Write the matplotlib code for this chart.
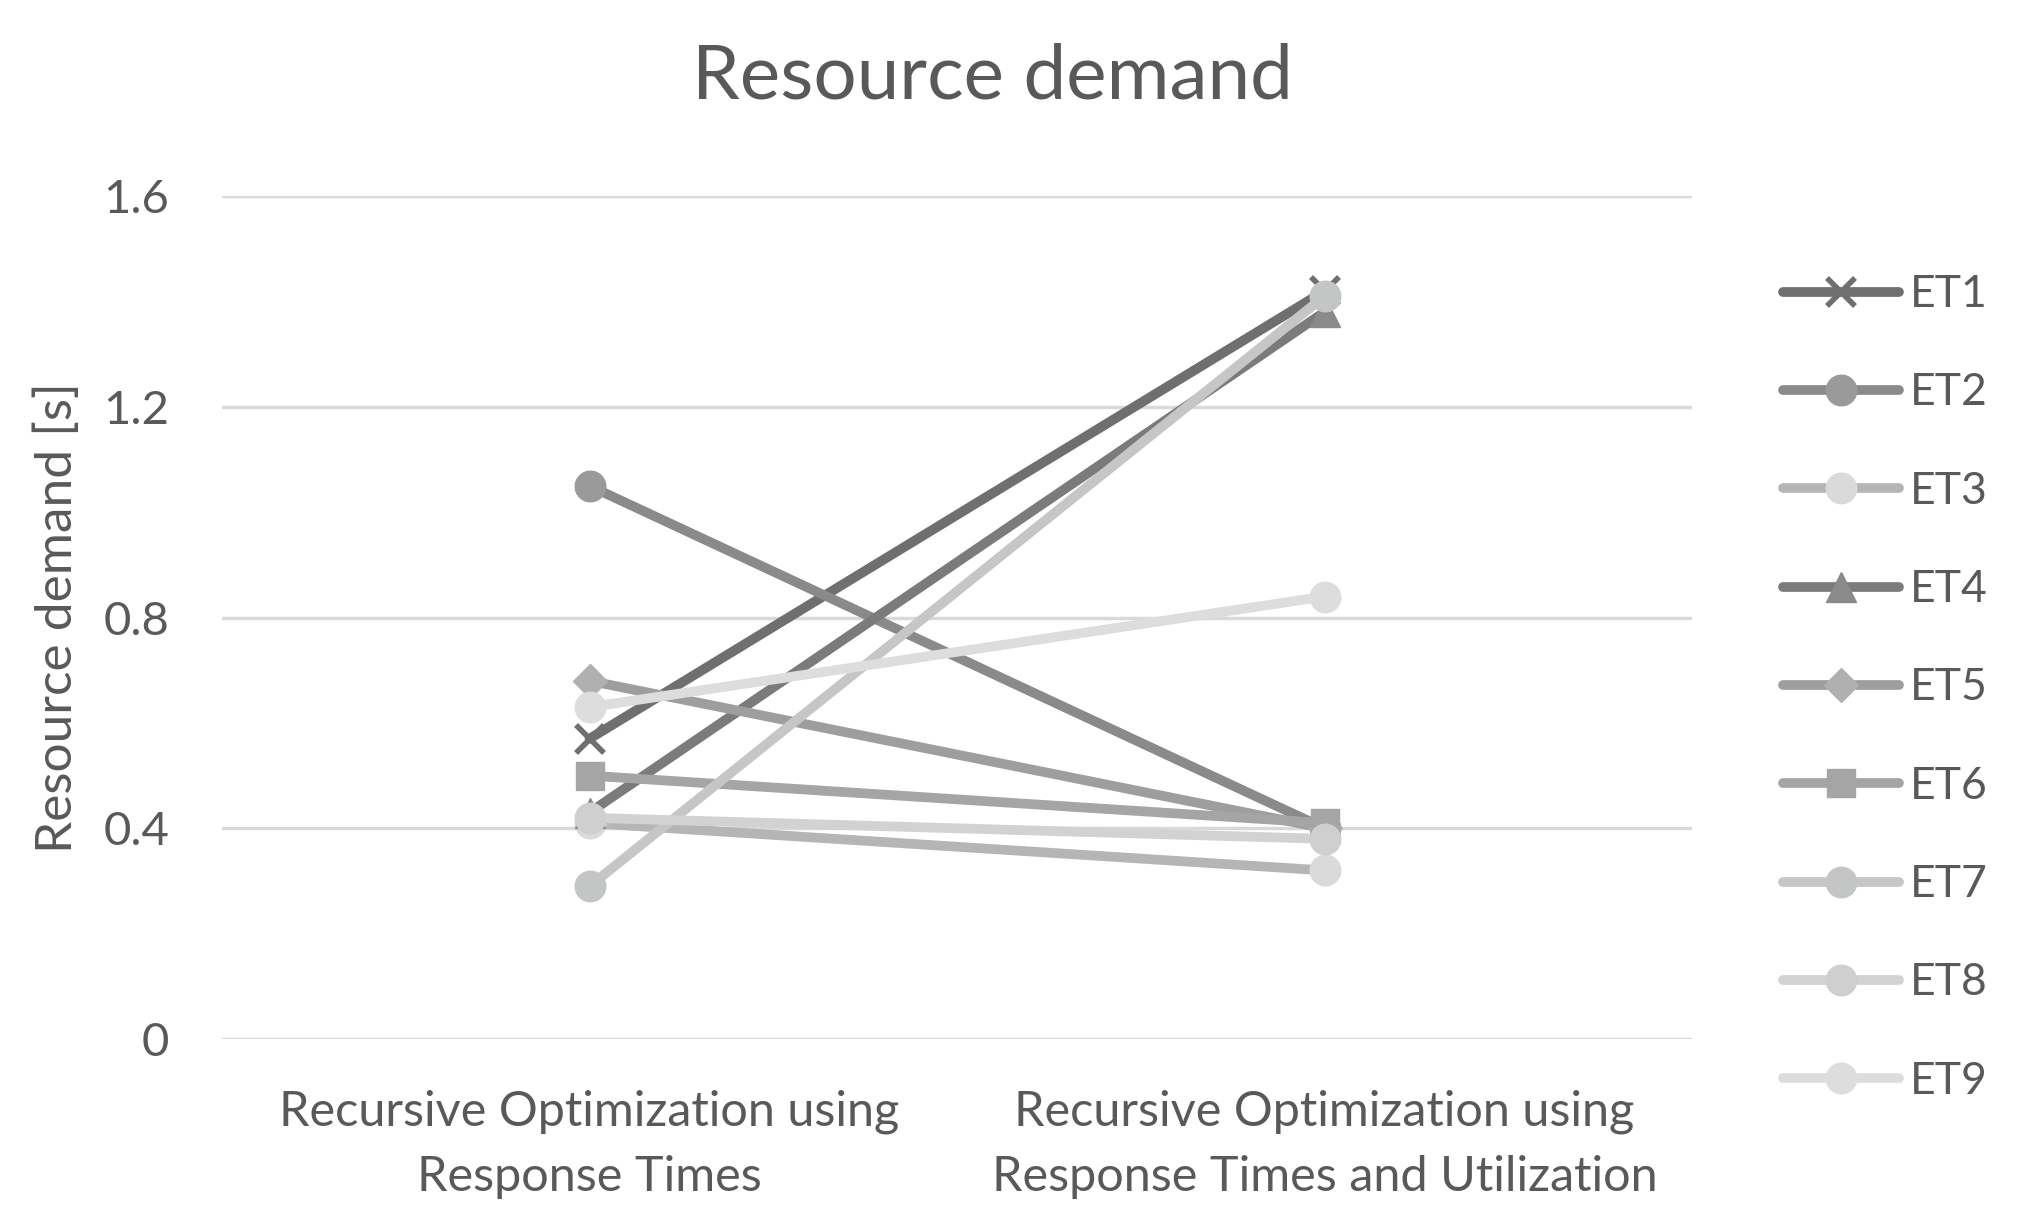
import matplotlib
matplotlib.use('Agg')
import matplotlib.pyplot as plt

plt.rcParams['font.family'] = ['Lato', 'DejaVu Sans']

# categories and series values
categories = ['Recursive Optimization using\nResponse Times',
              'Recursive Optimization using\nResponse Times and Utilization']
series_names = ['ET1', 'ET2', 'ET3', 'ET4', 'ET5', 'ET6', 'ET7', 'ET8', 'ET9']
et1 = [0.57, 1.42]
et2 = [1.05, 0.40]
et3 = [0.41, 0.32]
et4 = [0.43, 1.38]
et5 = [0.68, 0.40]
et6 = [0.50, 0.41]
et7 = [0.29, 1.41]
et8 = [0.42, 0.38]
et9 = [0.63, 0.84]
y_ticks = [0, 0.4, 0.8, 1.2, 1.6]
y_tick_labels = ['0', '0.4', '0.8', '1.2', '1.6']

values = [et1, et2, et3, et4, et5, et6, et7, et8, et9]
line_colors = ['#6f6f6f', '#8a8a8a', '#b5b5b5', '#7b7b7b', '#9e9e9e',
               '#a5a5a5', '#c6c6c6', '#d2d2d2', '#dddddd']
marker_colors = ['#6f6f6f', '#9a9a9a', '#dadada', '#8a8a8a', '#b0b0b0',
                 '#a5a5a5', '#c4c6c6', '#cfcfcf', '#dddddd']
markers = ['x', 'o', 'o', '^', 'D', 's', 'o', 'o', 'o']
msizes = [20, 22, 22, 22, 17, 20, 22, 22, 22]

txt = '#595959'

fig = plt.figure(figsize=(20.22, 12.26), dpi=100)
ax = fig.add_axes([0.1098, 0.1525, 0.8368 - 0.1098, 0.840 - 0.1525])

xs = [0, 1]
for name, vals, lc, mc, m, ms in zip(series_names, values, line_colors,
                                      marker_colors, markers, msizes):
    ax.plot(xs, vals, color=lc, lw=7, marker=m, markersize=ms,
            markerfacecolor=mc, markeredgecolor=mc,
            markeredgewidth=4 if m == 'x' else 1,
            solid_capstyle='round', label=name, clip_on=False)

ax.set_xlim(-0.5, 1.5)
ax.set_ylim(0, 1.6)
ax.set_yticks(y_ticks)
ax.set_yticklabels(y_tick_labels)
ax.set_xticks(xs)
ax.set_xticklabels(categories, linespacing=1.6)
ax.tick_params(axis='both', length=0, labelsize=34, colors=txt)
ax.tick_params(axis='x', labelsize=35, pad=36)
ax.tick_params(axis='y', pad=38)
ax.grid(axis='y', color='#d9d9d9', lw=2.5)
ax.set_axisbelow(True)
for s in ax.spines.values():
    s.set_visible(False)

ax.set_ylabel('Resource demand [s]', fontsize=37, color=txt, labelpad=16)
fig.text(0.491, 0.937, 'Resource demand', ha='center', va='center',
         fontsize=55, color=txt)

leg = fig.legend(loc='upper left', bbox_to_anchor=(0.862, 0.809),
                 frameon=False, fontsize=32, labelcolor=txt,
                 handlelength=2.6, handletextpad=0.26, labelspacing=1.29)

fig.savefig('out.png', dpi=100)
